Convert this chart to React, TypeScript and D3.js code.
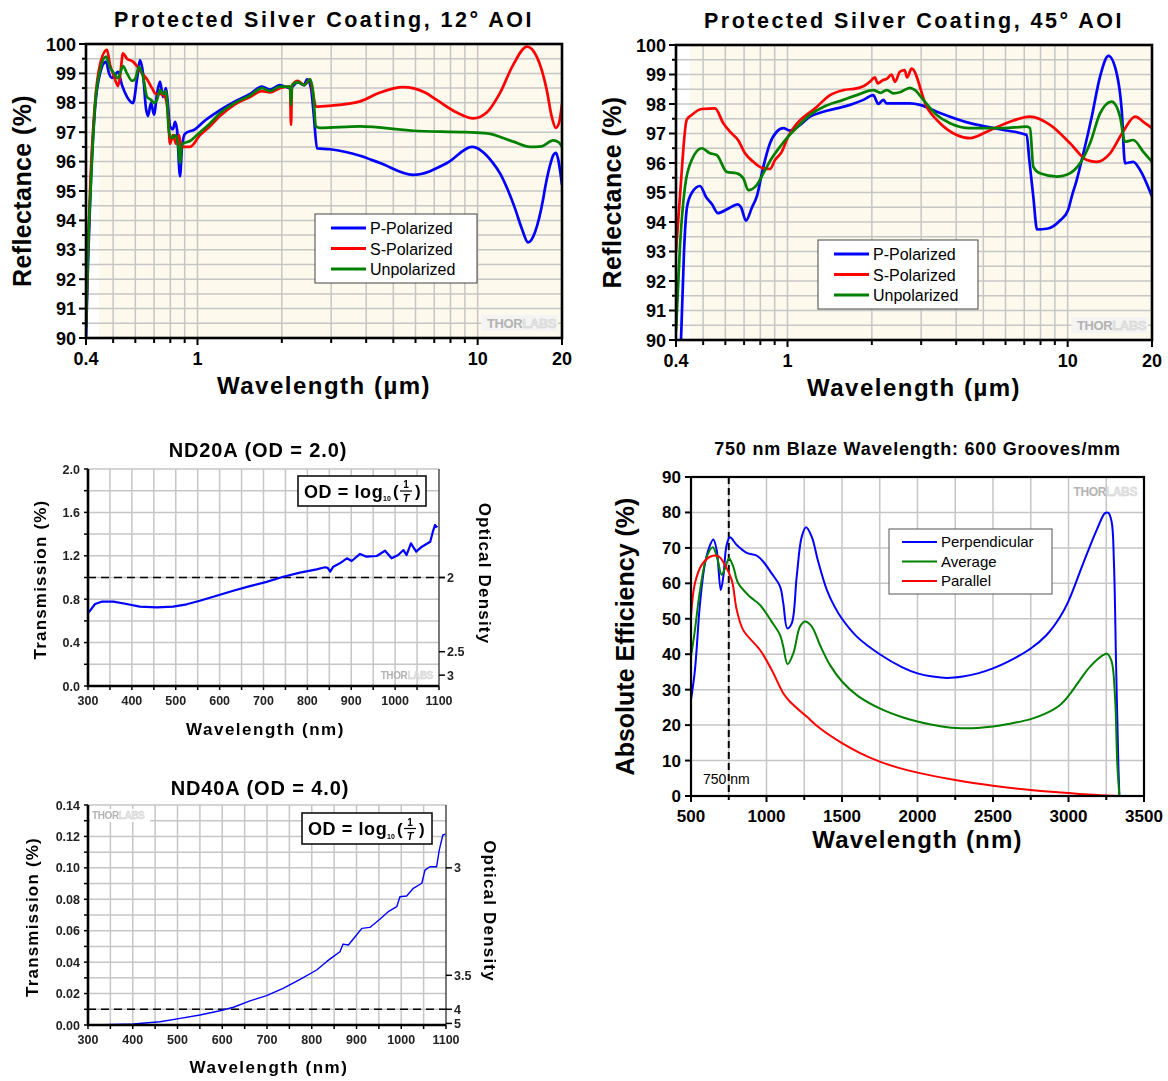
import React from 'react';
import * as d3 from 'd3';

type Pt = [number, number];

const SANS = '"Liberation Sans", Arial, Helvetica, sans-serif';
const BLUE = '#0000ff';
const RED = '#ff0000';
const GREEN = '#008000';
const GRID = '#c6c6c6';
const CREAM = '#fdf9ec';

// ---------- Protected silver coating, 12° AOI: [wavelength µm, reflectance %] ----------
const aoi12P: Pt[] = [
  [0.4, 90.0], [0.4066, 92.5], [0.4168, 95.5], [0.4307, 97.8], [0.4488, 99.0], [0.4715, 99.4],
  [0.4833, 99.0], [0.4953, 98.85], [0.5077, 98.95], [0.5203, 99.05], [0.5377, 98.6], [0.5603, 98.2],
  [0.5886, 97.99], [0.6083, 98.8], [0.6234, 99.45], [0.639, 99.0], [0.655, 97.8], [0.6658, 97.55],
  [0.6825, 98.0], [0.6995, 97.6], [0.717, 98.3], [0.7348, 98.72], [0.7532, 98.2], [0.772, 98.5],
  [0.7848, 97.9], [0.7978, 97.2], [0.8178, 97.1], [0.8313, 97.35], [0.845, 97.1], [0.8662, 95.5],
  [0.8805, 96.5], [0.9025, 96.95], [0.9798, 97.1], [1.064, 97.4], [1.203, 97.75], [1.361, 98.05],
  [1.54, 98.3], [1.699, 98.55], [1.815, 98.45], [1.97, 98.6], [2.139, 98.5], [2.284, 98.7],
  [2.4, 98.6], [2.46, 98.8], [2.542, 98.5], [2.605, 97.5], [2.67, 96.45], [2.972, 96.42],
  [3.803, 96.2], [4.482, 95.95], [5.879, 95.55], [7.775, 95.95], [9.548, 96.5], [11.35, 95.95],
  [12.02, 95.6], [12.73, 95.1], [13.6, 94.4], [14.4, 93.7], [15.13, 93.25], [16.02, 93.6],
  [17.11, 94.7], [17.4, 95.1], [18.28, 96.0], [18.58, 96.2], [19.04, 96.3], [19.36, 96.1],
  [19.68, 95.7], [20, 95.2],
];
const aoi12S: Pt[] = [
  [0.4, 90.5], [0.4066, 93.0], [0.4134, 95.0], [0.4307, 98.0], [0.4488, 99.3], [0.4752, 99.8],
  [0.4872, 99.3], [0.5035, 98.9], [0.5203, 98.57], [0.529, 98.9], [0.5422, 99.68], [0.5603, 99.5],
  [0.5886, 99.4], [0.6133, 99.2], [0.6338, 99.0], [0.6604, 98.8], [0.6881, 98.5], [0.7111, 98.3],
  [0.7348, 98.3], [0.7657, 98.2], [0.7848, 97.6], [0.7978, 96.6], [0.8178, 96.9], [0.8381, 96.6],
  [0.8591, 96.9], [0.8733, 96.5], [0.9404, 96.5], [1.021, 96.9], [1.108, 97.2], [1.203, 97.55],
  [1.361, 97.95], [1.54, 98.2], [1.699, 98.4], [1.815, 98.35], [1.97, 98.5], [2.139, 98.55],
  [2.157, 97.25], [2.175, 98.6], [2.284, 98.75], [2.4, 98.6], [2.521, 98.8], [2.584, 98.3],
  [2.648, 97.87], [2.972, 97.9], [3.803, 98.05], [4.482, 98.35], [5.415, 98.53], [6.488, 98.35],
  [7.14, 98.1], [8.42, 97.67], [9.65, 97.47], [10.77, 97.67], [12.02, 98.34], [13.4, 99.3],
  [15.0, 99.91], [16.25, 99.57], [17.64, 98.44], [18.38, 97.53], [19.0, 97.15], [19.5, 97.3],
  [20, 97.95],
];
const aoi12U: Pt[] = [
  [0.4, 90.3], [0.4066, 93.0], [0.4168, 95.3], [0.4307, 97.9], [0.4488, 99.1], [0.4715, 99.57],
  [0.4872, 99.2], [0.4994, 99.05], [0.5203, 98.84], [0.529, 99.0], [0.5422, 99.25], [0.5603, 99.0],
  [0.5838, 98.75], [0.5984, 98.8], [0.6183, 99.23], [0.639, 98.9], [0.6604, 98.2], [0.6825, 98.1],
  [0.6995, 98.0], [0.717, 98.1], [0.7348, 98.44], [0.7532, 98.3], [0.772, 98.4], [0.7913, 97.0],
  [0.811, 96.8], [0.8313, 96.9], [0.852, 96.6], [0.8662, 95.94], [0.8805, 96.6], [0.9404, 96.7],
  [1.021, 97.0], [1.108, 97.3], [1.203, 97.65], [1.361, 98.0], [1.54, 98.25], [1.699, 98.5],
  [1.815, 98.4], [1.97, 98.55], [2.139, 98.55], [2.157, 97.93], [2.175, 98.6], [2.284, 98.7],
  [2.4, 98.6], [2.521, 98.8], [2.584, 98.4], [2.648, 97.2], [2.737, 97.15], [3.803, 97.2],
  [5.88, 97.05], [9.0, 97.0], [10.8, 96.96], [13.4, 96.68], [15.4, 96.5], [16.9, 96.52],
  [18.6, 96.72], [19.5, 96.65], [20, 96.5],
];

// ---------- Protected silver coating, 45° AOI ----------
const aoi45P: Pt[] = [
  [0.4168, 90.0], [0.4272, 93.0], [0.4378, 94.5], [0.4562, 95.0], [0.4872, 95.22], [0.5119, 94.85],
  [0.5377, 94.6], [0.5649, 94.3], [0.6133, 94.45], [0.6658, 94.6], [0.6825, 94.5], [0.7111, 94.05],
  [0.7472, 94.5], [0.7766, 94.86], [0.8198, 95.87], [0.8662, 96.67], [0.9152, 97.06], [0.9661, 97.18],
  [1.021, 97.1], [1.0786, 97.2], [1.203, 97.57], [1.342, 97.74], [1.498, 97.85], [1.672, 97.97],
  [1.865, 98.14], [2.024, 98.3], [2.109, 98.0], [2.197, 98.14], [2.261, 98.02], [2.737, 98.02],
  [2.972, 97.97], [3.409, 97.74], [4.482, 97.35], [5.893, 97.12], [7.14, 96.95], [7.297, 96.1],
  [7.54, 94.86], [7.775, 93.75], [8.509, 93.78], [9.39, 94.05], [10.03, 94.4], [10.34, 94.86],
  [10.77, 95.42], [11.38, 96.33], [12.19, 97.57], [13.05, 98.93], [13.98, 99.63], [14.96, 99.04],
  [15.59, 97.8], [16.02, 95.99], [17.15, 96.04], [18.13, 95.76], [20, 94.86],
];
const aoi45S: Pt[] = [
  [0.4, 93.0], [0.4134, 94.9], [0.4367, 97.46], [0.4551, 97.63], [0.4941, 97.83], [0.5511, 97.85],
  [0.5901, 97.35], [0.6234, 97.06], [0.6658, 96.78], [0.7053, 96.33], [0.7551, 96.04], [0.8198, 95.82],
  [0.8662, 95.8], [0.9025, 96.1], [0.9536, 96.38], [1.0068, 96.9], [1.0489, 97.18], [1.271, 97.9],
  [1.418, 98.3], [1.582, 98.47], [1.766, 98.53], [1.88, 98.62], [1.97, 98.76], [2.05, 98.9],
  [2.1, 98.7], [2.192, 98.81], [2.261, 98.85], [2.35, 99.0], [2.42, 98.75], [2.521, 99.1],
  [2.62, 99.15], [2.67, 98.9], [2.775, 99.2], [3.139, 97.9], [3.503, 97.35], [4.018, 96.95],
  [4.482, 96.84], [5.142, 97.06], [6.226, 97.4], [7.34, 97.57], [8.651, 97.29], [10.197, 96.67],
  [11.7, 96.1], [12.7, 96.04], [14.17, 96.33], [15.76, 97.06], [17.4, 97.57], [18.89, 97.35],
  [20, 97.18],
];
const aoi45U: Pt[] = [
  [0.4, 90.3], [0.4134, 93.2], [0.4307, 95.2], [0.4551, 96.1], [0.4941, 96.5], [0.529, 96.33],
  [0.5589, 96.27], [0.6068, 95.7], [0.6588, 95.65], [0.6954, 95.48], [0.7246, 95.08], [0.7766, 95.25],
  [0.8313, 95.76], [0.8785, 96.16], [0.9404, 96.55], [1.0068, 96.9], [1.0786, 97.2], [1.203, 97.63],
  [1.342, 97.9], [1.582, 98.14], [1.766, 98.3], [2.024, 98.47], [2.15, 98.38], [2.261, 98.47],
  [2.4, 98.36], [2.521, 98.4], [2.737, 98.55], [2.852, 98.47], [3.054, 98.14], [3.409, 97.63],
  [3.803, 97.35], [4.482, 97.18], [5.893, 97.18], [7.14, 97.23], [7.34, 97.18], [7.54, 95.87],
  [7.968, 95.65], [9.14, 95.54], [9.925, 95.6], [11.07, 95.99], [12.02, 96.67], [13.05, 97.68],
  [14.36, 98.08], [15.38, 97.57], [16.02, 96.72], [17.15, 96.78], [18.62, 96.38], [20, 96.04],
];

const reflLegend = ['P-Polarized', 'S-Polarized', 'Unpolarized'];
const reflXLabels = [0.4, 1, 10, 20];
const reflLogTicks = [0.4, 0.5, 0.6, 0.7, 0.8, 0.9, 1, 2, 3, 4, 5, 6, 7, 8, 9, 10, 20];
const reflYTicks = d3.range(90, 101, 1);

// ---------- ND20A transmission: [wavelength nm, T %] ----------
const nd20: Pt[] = [
  [300, 0.68], [303, 0.685], [316, 0.756], [331, 0.777], [358, 0.777], [388, 0.756], [418, 0.731],
  [457, 0.725], [494, 0.731], [525, 0.753], [555, 0.786], [593, 0.832], [631, 0.878], [669, 0.92],
  [707, 0.96], [745, 1.007], [783, 1.045], [821, 1.075], [840, 1.094], [846, 1.09], [852, 1.054],
  [859, 1.1], [874, 1.131], [890, 1.177], [901, 1.152], [920, 1.217], [935, 1.192], [958, 1.198],
  [977, 1.247], [992, 1.177], [1007, 1.207], [1019, 1.253], [1026, 1.207], [1036, 1.315],
  [1048, 1.238], [1061, 1.284], [1080, 1.33], [1086, 1.422], [1091, 1.484], [1096, 1.462],
];
const nd20YTicks = [0, 0.4, 0.8, 1.2, 1.6, 2.0];
const nd20OD = [2, 2.5, 3];

// ---------- ND40A transmission ----------
const nd40: Pt[] = [
  [312, 0.0], [401, 0.0006], [461, 0.0021], [506, 0.0042], [550, 0.0064], [595, 0.0091],
  [625, 0.0113], [662, 0.0153], [699, 0.0187], [736, 0.0233], [774, 0.029], [811, 0.035],
  [833, 0.0403], [848, 0.0435], [863, 0.0466], [870, 0.0515], [882, 0.0509], [900, 0.0573],
  [912, 0.0615], [930, 0.0621], [952, 0.0673], [971, 0.0721], [990, 0.0753], [997, 0.0816],
  [1012, 0.0821], [1027, 0.087], [1046, 0.0902], [1053, 0.0986], [1064, 0.1007], [1079, 0.1007],
  [1085, 0.1114], [1093, 0.1209], [1099, 0.1215],
];
const nd40YTicks = [0, 0.02, 0.04, 0.06, 0.08, 0.1, 0.12, 0.14];
const nd40OD = [3, 3.5, 4, 5];
const ndXTicks = d3.range(300, 1101, 100);

// ---------- 750 nm blaze grating efficiency: [wavelength nm, efficiency %] ----------
const blazePerp: Pt[] = [
  [500, 27.1], [526, 35.5], [560, 54.4], [593, 65.7], [626, 70.8], [648, 72.4], [670, 69.4],
  [697, 58.1], [714, 61.9], [736, 70.8], [758, 73.0], [803, 70.8], [869, 68.6], [935, 67.8],
  [979, 66.1], [1034, 62.8], [1090, 59.1], [1111, 54.4], [1138, 47.3], [1167, 48.7], [1200, 61.9],
  [1233, 73.1], [1262, 75.8], [1300, 73.1], [1340, 66.5], [1400, 58.1], [1450, 53.5], [1500, 50.0],
  [1600, 44.9], [1750, 40.0], [1900, 36.3], [2000, 34.6], [2100, 33.7], [2195, 33.3], [2300, 33.7],
  [2400, 34.6], [2500, 36.0], [2600, 37.9], [2750, 41.6], [2850, 45.2], [2944, 50.5], [3000, 55.0],
  [3098, 65.7], [3187, 75.1], [3242, 79.8], [3264, 79.9], [3286, 77.3], [3301, 65.7], [3315, 37.4],
  [3330, 9.2], [3337, 0],
];
const blazeAvg: Pt[] = [
  [500, 39.3], [526, 46.8], [560, 58.1], [604, 67.5], [644, 70.2], [674, 67.1], [703, 62.4],
  [725, 64.2], [752, 67.1], [780, 64.7], [813, 60.0], [891, 56.2], [957, 53.9], [1034, 49.2],
  [1090, 45.4], [1111, 42.1], [1140, 37.2], [1178, 40.3], [1222, 47.8], [1255, 49.2], [1300, 47.8],
  [1354, 42.6], [1420, 37.0], [1500, 32.3], [1600, 28.4], [1750, 24.7], [1900, 22.2], [2000, 21.0],
  [2150, 19.7], [2290, 19.1], [2400, 19.2], [2500, 19.6], [2600, 20.3], [2750, 21.7], [2850, 23.3],
  [2944, 25.7], [3010, 28.8], [3080, 33.0], [3143, 36.5], [3231, 39.8], [3257, 40.1], [3286, 37.9],
  [3308, 28.0], [3323, 9.2], [3337, 0],
];
const blazePar: Pt[] = [
  [500, 50.6], [526, 60.0], [571, 65.2], [626, 67.5], [681, 67.7], [725, 65.2], [770, 60.9],
  [803, 52.5], [846, 46.8], [957, 41.2], [1034, 35.6], [1111, 29.0], [1156, 26.6], [1266, 22.4],
  [1354, 19.1], [1500, 14.9], [1620, 12.1], [1750, 9.7], [1870, 8.0], [2000, 6.6], [2250, 4.5],
  [2500, 2.9], [2750, 1.7], [2944, 1.0], [3100, 0.5], [3250, 0.15], [3337, 0],
];
const blazeLegend = ['Perpendicular', 'Average', 'Parallel'];
const blazeXTicks = d3.range(500, 3501, 500);
const blazeYTicks = d3.range(0, 91, 10);

function Thorlabs({ x, y, size, anchor = 'end', bg }: any) {
  const w = size * 5.6;
  const x0 = anchor === 'end' ? x - w : x;
  return (
    <g>
      {bg && <rect x={x0 - 2} y={y - size} width={w + 4} height={size + 3} fill={bg} />}
      <text x={x} y={y} fontSize={size} fontWeight="bold" fontFamily={SANS} textAnchor={anchor} letterSpacing={-0.4}>
        <tspan fill="#b3b3b3">THOR</tspan>
        <tspan fill="#e4e4e4" stroke="#cfcfcf" strokeWidth={0.4}>LABS</tspan>
      </text>
    </g>
  );
}

function ReflChart({ id, title, series, L, R, T, B, creamX, legend }: any) {
  const x = d3.scaleLog().domain([0.4, 20]).range([L, R]);
  const y = d3.scaleLinear().domain([90, 100]).range([B, T]);
  const line = d3.line<Pt>().x(d => x(d[0])).y(d => y(d[1])).curve(d3.curveMonotoneX);
  const cx = (L + R) / 2;
  const hGrid = d3.range(90.5, 100, 0.5);
  return (
    <g fontFamily={SANS}>
      <clipPath id={id}><rect x={L} y={T} width={R - L} height={B - T} /></clipPath>
      <rect x={creamX} y={T} width={R - creamX} height={B - T} fill={CREAM} />
      {reflLogTicks.slice(1, -1).map(v => (
        <line key={'gx' + v} x1={x(v)} x2={x(v)} y1={T} y2={B} stroke={GRID} strokeWidth={1.5} />
      ))}
      {hGrid.map(v => (
        <line key={'gy' + v} x1={L} x2={R} y1={y(v)} y2={y(v)} stroke={GRID} strokeWidth={1.5} />
      ))}
      <Thorlabs x={R - 6} y={B - 10} size={13} bg="#f4f4f4" />
      <g clipPath={`url(#${id})`}>
        {series.map((s: any) => (
          <path key={s.name} d={line(s.data) || ''} fill="none" stroke={s.color} strokeWidth={2.7} strokeLinejoin="round" />
        ))}
      </g>
      <rect x={legend.x} y={legend.y} width={legend.w} height={legend.h} fill="#fff" stroke="#444" strokeWidth={1} />
      {series.map((s: any, i: number) => (
        <g key={'lg' + s.name}>
          <line x1={legend.x + 16} x2={legend.x + 51} y1={legend.y + 14 + i * 20.5} y2={legend.y + 14 + i * 20.5} stroke={s.color} strokeWidth={3} />
          <text x={legend.x + 55} y={legend.y + 20 + i * 20.5} fontSize={16}>{s.name}</text>
        </g>
      ))}
      <rect x={L} y={T} width={R - L} height={B - T} fill="none" stroke="#000" strokeWidth={2.6} />
      {d3.range(90, 100.01, 0.5).map(v => (
        <line key={'ty' + v} x1={L} x2={L - (Number.isInteger(v) ? 7 : 4)} y1={y(v)} y2={y(v)} stroke="#000" strokeWidth={2} />
      ))}
      {reflYTicks.map(v => (
        <text key={'ly' + v} x={L - 10} y={y(v) + 6.5} fontSize={18} fontWeight="bold" textAnchor="end">{v}</text>
      ))}
      {reflLogTicks.map(v => (
        <line key={'tx' + v} x1={x(v)} x2={x(v)} y1={B} y2={B + (reflXLabels.includes(v) ? 7 : 5)} stroke="#000" strokeWidth={2} />
      ))}
      {reflXLabels.map(v => (
        <text key={'lx' + v} x={x(v)} y={B + 27} fontSize={18} fontWeight="bold" textAnchor="middle">{v}</text>
      ))}
      <text x={cx} y={T - 17} fontSize={21.5} fontWeight="bold" textAnchor="middle" letterSpacing={2.5}>{title}</text>
      <text x={cx} y={B + 56} fontSize={24} fontWeight="bold" textAnchor="middle" letterSpacing={1.5}>Wavelength (µm)</text>
      <text transform={`translate(${L - 55},${(T + B) / 2}) rotate(-90)`} fontSize={25} fontWeight="bold" textAnchor="middle" letterSpacing={0.4}>Reflectance (%)</text>
    </g>
  );
}

function ODFormula({ x, y, w, h }: any) {
  const m = y + h / 2;
  return (
    <g fontFamily={SANS} fontWeight="bold">
      <rect x={x} y={y} width={w} height={h} fill="#fff" stroke="#111" strokeWidth={1.6} />
      <text x={x + 6} y={m + 6.5} fontSize={18} letterSpacing={0.6}>OD = log</text>
      <text x={x + 85} y={m + 10} fontSize={7}>10</text>
      <text x={x + 95} y={m + 6} fontSize={17}>(</text>
      <text x={x + 108} y={m - 3} fontSize={10} textAnchor="middle">1</text>
      <line x1={x + 102} x2={x + 114} y1={m} y2={m} stroke="#000" strokeWidth={1.2} />
      <text x={x + 108} y={m + 11} fontSize={11} fontStyle="italic" textAnchor="middle">T</text>
      <text x={x + 117} y={m + 6} fontSize={17}>)</text>
    </g>
  );
}

function NDChart({ id, title, titleX, titleY, data, L, R, T, B, yMax, yGridStep, yTicks, yFmt, od, dashT,
  box, mark, lineW, yLabelX, xLabelY, odLabelX }: any) {
  const x = d3.scaleLinear().domain([300, 1100]).range([L, R]);
  const y = d3.scaleLinear().domain([0, yMax]).range([B, T]);
  const line = d3.line<Pt>().x(d => x(d[0])).y(d => y(d[1]));
  const fmt = d3.format(yFmt);
  const hGrid = d3.range(yGridStep, yMax - yGridStep / 2, yGridStep);
  const vGrid = d3.range(350, 1100, 50);
  return (
    <g fontFamily={SANS} filter="url(#soft)">
      <clipPath id={id}><rect x={L} y={T} width={R - L} height={B - T} /></clipPath>
      {vGrid.map(v => <line key={'gx' + v} x1={x(v)} x2={x(v)} y1={T} y2={B} stroke={GRID} strokeWidth={1.5} />)}
      {hGrid.map(v => <line key={'gy' + v} x1={L} x2={R} y1={y(v)} y2={y(v)} stroke={GRID} strokeWidth={1.5} />)}
      <line x1={L} x2={R} y1={T} y2={T} stroke={GRID} strokeWidth={1.5} />
      <Thorlabs x={mark.x} y={mark.y} size={10} anchor={mark.anchor} bg={mark.bg} />
      <line x1={L} x2={R + 6} y1={y(dashT)} y2={y(dashT)} stroke="#000" strokeWidth={1.6} strokeDasharray="8,5" />
      <g clipPath={`url(#${id})`}>
        <path d={line(data) || ''} fill="none" stroke={BLUE} strokeWidth={lineW} strokeLinejoin="round" />
      </g>
      <ODFormula {...box} />
      <line x1={R} x2={R} y1={T} y2={B} stroke="#222" strokeWidth={1.2} />
      <line x1={L} x2={L} y1={T} y2={B + 1} stroke="#000" strokeWidth={2.6} />
      <line x1={L - 1} x2={R} y1={B} y2={B} stroke="#000" strokeWidth={2.6} />
      {d3.range(0, yMax + yGridStep / 2, yGridStep).map(v => (
        <line key={'ty' + v} x1={L} x2={L - 4} y1={y(v)} y2={y(v)} stroke="#000" strokeWidth={1.5} />
      ))}
      {yTicks.map((v: number) => (
        <text key={'ly' + v} x={L - 8} y={y(v) + 4.5} fontSize={12.5} fontWeight="bold" textAnchor="end" fill="#222">{fmt(v)}</text>
      ))}
      {d3.range(300, 1101, 50).map(v => (
        <line key={'tx' + v} x1={x(v)} x2={x(v)} y1={B} y2={B + 4} stroke="#000" strokeWidth={1.5} />
      ))}
      {ndXTicks.map(v => (
        <text key={'lx' + v} x={x(v)} y={B + 19} fontSize={12.5} fontWeight="bold" textAnchor="middle" fill="#222">{v}</text>
      ))}
      {od.map((o: number) => {
        const t = 100 * Math.pow(10, -o);
        return (
          <g key={'od' + o}>
            <line x1={R} x2={R + 6} y1={y(t)} y2={y(t)} stroke="#000" strokeWidth={1.5} />
            <text x={R + 8} y={y(t) + 4.5} fontSize={12.5} fontWeight="bold" fill="#222">{o}</text>
          </g>
        );
      })}
      <text x={titleX} y={titleY} fontSize={20} fontWeight="bold" textAnchor="middle" letterSpacing={0.9}>{title}</text>
      <text x={(L + R) / 2 + 2} y={xLabelY} fontSize={17} fontWeight="bold" textAnchor="middle" letterSpacing={1.5}>Wavelength (nm)</text>
      <text transform={`translate(${yLabelX + 6},${(T + B) / 2 + 2}) rotate(-90)`} fontSize={17} fontWeight="bold" textAnchor="middle" letterSpacing={1.2}>Transmission (%)</text>
      <text transform={`translate(${odLabelX - 6},${(T + B) / 2 - 4}) rotate(90)`} fontSize={17} fontWeight="bold" textAnchor="middle" letterSpacing={1.2}>Optical Density</text>
    </g>
  );
}

function BlazeChart() {
  const L = 691, R = 1144, T = 477, B = 796;
  const x = d3.scaleLinear().domain([500, 3500]).range([L, R]);
  const y = d3.scaleLinear().domain([0, 90]).range([B, T]);
  const line = d3.line<Pt>().x(d => x(d[0])).y(d => y(d[1])).curve(d3.curveCatmullRom.alpha(0.5));
  const series = [
    { name: blazeLegend[0], color: BLUE, data: blazePerp },
    { name: blazeLegend[1], color: GREEN, data: blazeAvg },
    { name: blazeLegend[2], color: RED, data: blazePar },
  ];
  const lg = { x: 889, y: 529, w: 163, h: 65 };
  return (
    <g fontFamily={SANS}>
      <clipPath id="blazeClip"><rect x={L} y={T} width={R - L} height={B - T} /></clipPath>
      {d3.range(750, 3500, 250).map(v => <line key={'gx' + v} x1={x(v)} x2={x(v)} y1={T} y2={B} stroke={GRID} strokeWidth={1.5} />)}
      {d3.range(10, 90, 10).map(v => <line key={'gy' + v} x1={L} x2={R} y1={y(v)} y2={y(v)} stroke={GRID} strokeWidth={1.5} />)}
      <Thorlabs x={R - 7} y={T + 19} size={12} />
      <line x1={x(750)} x2={x(750)} y1={T} y2={B} stroke="#000" strokeWidth={2} strokeDasharray="7,4" />
      <text x={703} y={784} fontSize={14}>750 nm</text>
      <g clipPath="url(#blazeClip)">
        {series.map(s => (
          <path key={s.name} d={line(s.data) || ''} fill="none" stroke={s.color} strokeWidth={2} strokeLinejoin="round" />
        ))}
      </g>
      <rect x={lg.x} y={lg.y} width={lg.w} height={lg.h} fill="#fff" stroke="#555" strokeWidth={1} />
      {series.map((s, i) => (
        <g key={'lg' + s.name}>
          <line x1={lg.x + 13} x2={lg.x + 48} y1={lg.y + 13 + i * 19.5} y2={lg.y + 13 + i * 19.5} stroke={s.color} strokeWidth={2} />
          <text x={lg.x + 52} y={lg.y + 18 + i * 19.5} fontSize={15}>{s.name}</text>
        </g>
      ))}
      <rect x={L} y={T} width={R - L} height={B - T} fill="none" stroke="#000" strokeWidth={2.2} />
      {blazeYTicks.map(v => (
        <g key={'ty' + v}>
          <line x1={L} x2={L - 6} y1={y(v)} y2={y(v)} stroke="#000" strokeWidth={2} />
          <text x={L - 10} y={y(v) + 6} fontSize={17} fontWeight="bold" textAnchor="end">{v}</text>
        </g>
      ))}
      {d3.range(500, 3501, 250).map(v => (
        <line key={'tx' + v} x1={x(v)} x2={x(v)} y1={B} y2={B + (v % 500 === 0 ? 6 : 4)} stroke="#000" strokeWidth={2} />
      ))}
      {blazeXTicks.map(v => (
        <text key={'lx' + v} x={x(v)} y={B + 26} fontSize={17} fontWeight="bold" textAnchor="middle">{v}</text>
      ))}
      <text x={(L + R) / 2} y={455} fontSize={18} fontWeight="bold" textAnchor="middle" letterSpacing={0.8}>750 nm Blaze Wavelength: 600 Grooves/mm</text>
      <text x={(L + R) / 2} y={848} fontSize={24} fontWeight="bold" textAnchor="middle" letterSpacing={1.2}>Wavelength (nm)</text>
      <text transform={`translate(${634},${(T + B) / 2}) rotate(-90)`} fontSize={25} fontWeight="bold" textAnchor="middle">Absolute Efficiency (%)</text>
    </g>
  );
}

export default function App() {
  const s12 = [
    { name: reflLegend[0], color: BLUE, data: aoi12P },
    { name: reflLegend[1], color: RED, data: aoi12S },
    { name: reflLegend[2], color: GREEN, data: aoi12U },
  ];
  const s45 = [
    { name: reflLegend[0], color: BLUE, data: aoi45P },
    { name: reflLegend[1], color: RED, data: aoi45S },
    { name: reflLegend[2], color: GREEN, data: aoi45U },
  ];
  return (
    <svg width={1168} height={1081} style={{ position: 'absolute', left: 0, top: 0, background: '#fff' }}>
      <defs>
        <filter id="soft" x="-5%" y="-5%" width="110%" height="110%">
          <feGaussianBlur stdDeviation={0.45} />
        </filter>
      </defs>
      <rect width={1168} height={1081} fill="#fff" />
      <ReflChart id="c12" title="Protected Silver Coating, 12° AOI" series={s12} L={86} R={562} T={44} B={338}
        creamX={99} legend={{ x: 315, y: 214, w: 162, h: 69 }} />
      <ReflChart id="c45" title="Protected Silver Coating, 45° AOI" series={s45} L={676} R={1152} T={45} B={340}
        creamX={690} legend={{ x: 818, y: 240, w: 160, h: 69 }} />
      <NDChart id="nd20" title="ND20A (OD = 2.0)" titleX={258} titleY={457} data={nd20} L={88} R={439} T={469} B={686}
        yMax={2} yGridStep={0.2} yTicks={nd20YTicks} yFmt=".1f" od={nd20OD} dashT={1.0}
        box={{ x: 298, y: 476, w: 128, h: 30 }} mark={{ x: 433, y: 679, anchor: 'end' }} lineW={2.2}
        yLabelX={40} xLabelY={735} odLabelX={485} />
      <NDChart id="nd40" title="ND40A (OD = 4.0)" titleX={260} titleY={795} data={nd40} L={88} R={446} T={805} B={1025}
        yMax={0.14} yGridStep={0.01} yTicks={nd40YTicks} yFmt=".2f" od={nd40OD} dashT={0.01}
        box={{ x: 302, y: 813, w: 130, h: 31 }} mark={{ x: 92, y: 819, anchor: 'start', bg: '#fff' }} lineW={1.4}
        yLabelX={32} xLabelY={1073} odLabelX={490} />
      <BlazeChart />
    </svg>
  );
}
